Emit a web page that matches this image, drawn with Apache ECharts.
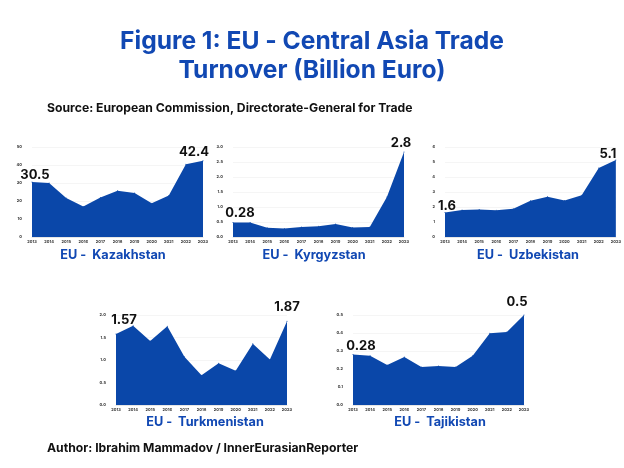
<!DOCTYPE html>
<html><head><meta charset="utf-8">
<script src="https://cdn.jsdelivr.net/npm/echarts@6/dist/echarts.min.js"></script>
<style>html,body{margin:0;padding:0;background:#fff}#c{width:624px;height:468px}</style>
</head><body><div id="c"></div>
<script>
const years = ['2013','2014','2015','2016','2017','2018','2019','2020','2021','2022','2023'];
const kazakhstan   = [30.5, 30.0, 21.7, 16.9, 21.9, 25.7, 24.4, 18.7, 23.1, 40.4, 42.4];
const kyrgyzstan   = [0.48, 0.48, 0.31, 0.28, 0.33, 0.36, 0.43, 0.32, 0.33, 1.33, 2.83];
const uzbekistan   = [1.64, 1.80, 1.84, 1.78, 1.89, 2.42, 2.69, 2.44, 2.78, 4.60, 5.13];
const turkmenistan = [1.58, 1.76, 1.42, 1.75, 1.07, 0.66, 0.93, 0.76, 1.36, 1.01, 1.86];
const tajikistan   = [0.281, 0.274, 0.222, 0.267, 0.211, 0.217, 0.211, 0.274, 0.398, 0.406, 0.50];
const endLabels = {
  kazakhstan: ['30.5', '42.4'],
  kyrgyzstan: ['0.28', '2.8'],
  uzbekistan: ['1.6', '5.1'],
  turkmenistan: ['1.57', '1.87'],
  tajikistan: ['0.28', '0.5']
};
const chartTitles = ['EU -  Kazakhstan', 'EU -  Kyrgyzstan', 'EU -  Uzbekistan', 'EU -  Turkmenistan', 'EU -  Tajikistan'];
const yMax = [50, 3, 6, 2, 0.5];
const yStep = [10, 0.5, 1, 0.5, 0.1];
const yDecimals = [0, 1, 0, 1, 1];

const BLUE = '#0a47a9';
const TITLE_BLUE = '#1148b3';
const FONT = 'Inter, "Noto Sans", sans-serif';

// shift: [[dxFirst, dyFirst], [dxLast, dyLast]] (pixels, label placement style)
const panels = [
  {data: kazakhstan, labels: endLabels.kazakhstan, left: 32, top: 147, titleX: 113, titleY: 249, shift: [[3, 2], [-9, 0]]},
  {data: kyrgyzstan, labels: endLabels.kyrgyzstan, left: 233, top: 147, titleX: 314, titleY: 249, shift: [[7, -1], [-3, 0]]},
  {data: uzbekistan, labels: endLabels.uzbekistan, left: 445, top: 147, titleX: 528, titleY: 249, shift: [[2, 3], [-8, 3]]},
  {data: turkmenistan, labels: endLabels.turkmenistan, left: 116, top: 315, titleX: 205, titleY: 416, shift: [[8, -5], [0, -5]]},
  {data: tajikistan, labels: endLabels.tajikistan, left: 353, top: 315, titleX: 440, titleY: 416, shift: [[8, 1], [-7, -4]]}
];

const grid = [], xAxis = [], yAxis = [], series = [];
const titles = [
  {text: 'Figure 1: EU - Central Asia Trade\nTurnover (Billion Euro)', left: 'center', top: 27, padding: 0,
   textStyle: {fontFamily: FONT, fontSize: 24.6, fontWeight: 700, color: TITLE_BLUE, lineHeight: 29}},
  {text: 'Source: European Commission, Directorate-General for Trade', left: 47, top: 102, padding: 0,
   textStyle: {fontFamily: FONT, fontSize: 12.2, fontWeight: 700, color: '#111'}},
  {text: 'Author: Ibrahim Mammadov / InnerEurasianReporter', left: 47, top: 442, padding: 0,
   textStyle: {fontFamily: FONT, fontSize: 12.2, fontWeight: 700, color: '#111'}}
];

panels.forEach((p, i) => {
  grid.push({left: p.left, top: p.top, width: 171, height: 90});
  xAxis.push({type: 'category', gridIndex: i, data: years, boundaryGap: false,
    axisLine: {show: true, lineStyle: {color: '#e6e6e6'}}, axisTick: {show: false},
    axisLabel: {fontSize: 4, color: '#333', fontFamily: FONT, fontWeight: 700, margin: 3, interval: 0}});
  yAxis.push({type: 'value', gridIndex: i, min: 0, max: yMax[i], interval: yStep[i],
    axisLine: {show: false}, axisTick: {show: false},
    splitLine: {lineStyle: {color: '#eeeeee', width: 0.6}},
    axisLabel: {fontSize: 4, color: '#333', fontFamily: FONT, fontWeight: 700, margin: 10,
      formatter: v => v.toFixed(yDecimals[i])}});
  const n = p.data.length;
  series.push({type: 'line', xAxisIndex: i, yAxisIndex: i, symbol: 'circle', symbolSize: 1, showSymbol: true,
    lineStyle: {width: 0}, areaStyle: {color: BLUE, opacity: 1}, itemStyle: {color: BLUE},
    labelLayout: {hideOverlap: false},
    data: p.data.map((v, k) => {
      const isEnd = (k === 0 || k === n - 1);
      const s = k === 0 ? p.shift[0] : p.shift[1];
      const dx = isEnd ? s[0] : 0, dy = isEnd ? s[1] : 0;
      return {value: v, label: {show: isEnd, position: 'top', distance: 2 - dy,
          padding: [0, dx < 0 ? -2 * dx : 0, 0, dx > 0 ? 2 * dx : 0],
          formatter: isEnd ? (k === 0 ? p.labels[0] : p.labels[1]) : '',
          fontFamily: FONT, fontSize: 13, fontWeight: 700, color: '#111'}};
    })
  });
  titles.push({text: chartTitles[i], left: p.titleX, top: p.titleY, textAlign: 'center', padding: 0,
    textStyle: {fontFamily: FONT, fontSize: 12.7, fontWeight: 700, color: TITLE_BLUE}});
});

const chart = echarts.init(document.getElementById('c'));
chart.setOption({animation: false, backgroundColor: '#fff', title: titles, grid, xAxis, yAxis, series});
</script></body></html>
